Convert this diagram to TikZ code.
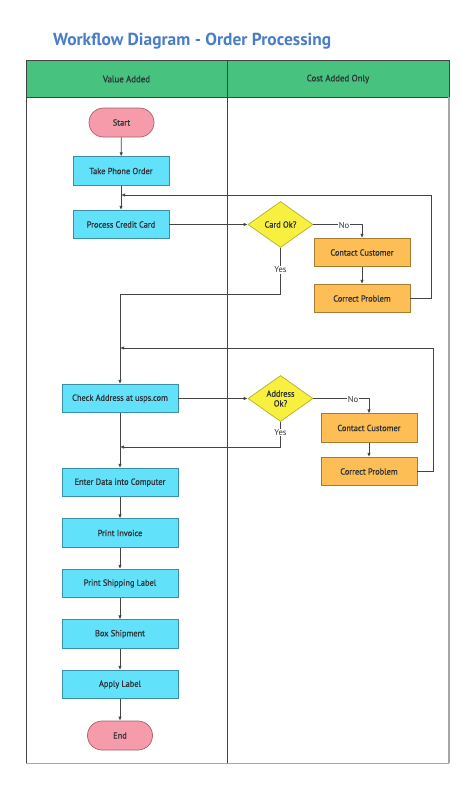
\documentclass[tikz,border=0pt]{standalone}
\usepackage{fontspec}
\setmainfont{PT Sans}
\newfontfamily\boxfont[FakeBold=0.9,FakeStretch=0.95]{PT Sans}
\usetikzlibrary{shapes.geometric,arrows.meta}
\definecolor{titleblue}{HTML}{4A7DC9}
\definecolor{hdrgreen}{HTML}{47C27F}
\definecolor{cyanF}{HTML}{62E1FB}
\definecolor{cyanB}{HTML}{3A8FA6}
\definecolor{orgF}{HTML}{FDBE55}
\definecolor{orgB}{HTML}{A87C30}
\definecolor{yelF}{HTML}{F8F03E}
\definecolor{yelB}{HTML}{B8AE28}
\definecolor{pinkF}{HTML}{F59BAA}
\definecolor{pinkB}{HTML}{A8606A}
\definecolor{txt}{HTML}{2E3338}
\definecolor{lin}{HTML}{444444}
\begin{document}
\begin{tikzpicture}[x=1pt,y=-1pt,
  base/.style={inner sep=0pt, text=txt, font=\boxfont\fontsize{8.8}{9.8}\selectfont, line width=0.7pt},
  proc/.style={base, draw=cyanB, fill=cyanF, minimum width=96pt, minimum height=28.5pt},
  wproc/.style={proc, minimum width=116pt},
  fix/.style={base, draw=orgB, fill=orgF, minimum width=96pt, minimum height=28.5pt},
  term/.style={base, draw=pinkB, fill=pinkF, minimum width=65pt, minimum height=29pt, rounded corners=14.5pt},
  dec/.style={base, diamond, aspect=1.4, draw=yelB, fill=yelF, minimum width=65pt, minimum height=46pt, align=center},
  conn/.style={draw=lin, line width=0.7pt},
  arr/.style={conn, -{Latex[length=4pt,width=3.4pt]}},
  lbl/.style={fill=white, inner sep=0.8pt, text=txt, font=\fontsize{8.6}{9.5}\selectfont},
  hdr/.style={text=txt, font=\boxfont\fontsize{9.3}{10}\selectfont}
]
\useasboundingbox (0,0) rectangle (474,788);
\fill[white] (0,0) rectangle (474,788);
% title
\node[anchor=west, text=titleblue, font=\fontsize{17.4}{20}\bfseries\selectfont, inner sep=0] (title) at (53,41) {Workflow Diagram - Order Processing};
% frame
\fill[hdrgreen] (26,60) rectangle (449,97);
\draw[lin, line width=0.7pt] (26,60) rectangle (449,97);
\draw[lin, line width=0.7pt] (26,97) -- (26,763);
\draw[gray!70, line width=0.8pt] (26,763) -- (449,763);
\draw[gray!70, line width=1.6pt] (449,97) -- (449,763);
\draw[lin, line width=0.7pt] (227,60) -- (227,763);
\node[hdr] (h1) at (126.5,79) {Value Added};
\node[hdr] (h2) at (338,79) {Cost Added Only};
% nodes
\node[term] (start) at (121.5,122.5) {Start};
\node[proc] (tpo) at (121,171) {Take Phone Order};
\node[proc] (pcc) at (121,224.5) {Process Credit Card};
\node[dec] (card) at (280.5,224.5) {Card Ok?};
\node[fix] (cc1) at (362,252.5) {Contact Customer};
\node[fix] (cp1) at (362,298.5) {Correct Problem};
\node[wproc] (cka) at (120,398.5) {Check Address at usps.com};
\node[dec] (addr) at (280.5,398.5) {Address\\Ok?};
\node[fix] (cc2) at (369,428) {Contact Customer};
\node[fix] (cp2) at (369,471.5) {Correct Problem};
\node[wproc] (ent) at (120,482.5) {Enter Data into Computer};
\node[wproc] (inv) at (120,533) {Print Invoice};
\node[wproc] (psl) at (120,583.5) {Print Shipping Label};
\node[wproc] (box) at (120,634) {Box Shipment};
\node[wproc] (app) at (120,684.5) {Apply Label};
\node[term] (end) at (120,735.5) {End};
% coordinates
\coordinate (j1) at (121,195);
\coordinate (r1) at (431,195);
\coordinate (y1) at (280.5,294);
\coordinate (j2) at (120,348);
\coordinate (r2) at (433,348);
\coordinate (j3) at (120,447);
\coordinate (y2) at (280.5,447);
% connectors
\draw[arr] (start) -- (tpo);
\draw[arr] (tpo) -- (pcc);
\draw[arr] (cp1.east) -| (r1) -- (j1);
\draw[arr] (pcc) -- (card);
\draw[arr] (card.east) -| (cc1.north);
\node[lbl] (no1) at (344,225.5) {No};
\draw[arr] (cc1) -- (cp1);
\draw[arr] (card.south) -- (y1) -| (cka.north);
\node[lbl] (yes1) at (280.5,270) {Yes};
\draw[arr] (cp2.east) -| (r2) -- (j2);
\draw[arr] (cka) -- (addr);
\draw[arr] (addr.east) -| (cc2.north);
\node[lbl] (no2) at (353,399.5) {No};
\draw[arr] (cc2) -- (cp2);
\draw[arr] (addr.south) -- (y2) -- (j3);
\node[lbl] (yes2) at (280.5,432.5) {Yes};
\draw[arr] (cka) -- (ent);
\draw[arr] (ent) -- (inv);
\draw[arr] (inv) -- (psl);
\draw[arr] (psl) -- (box);
\draw[arr] (box) -- (app);
\draw[arr] (app) -- (end);
\end{tikzpicture}
\end{document}
